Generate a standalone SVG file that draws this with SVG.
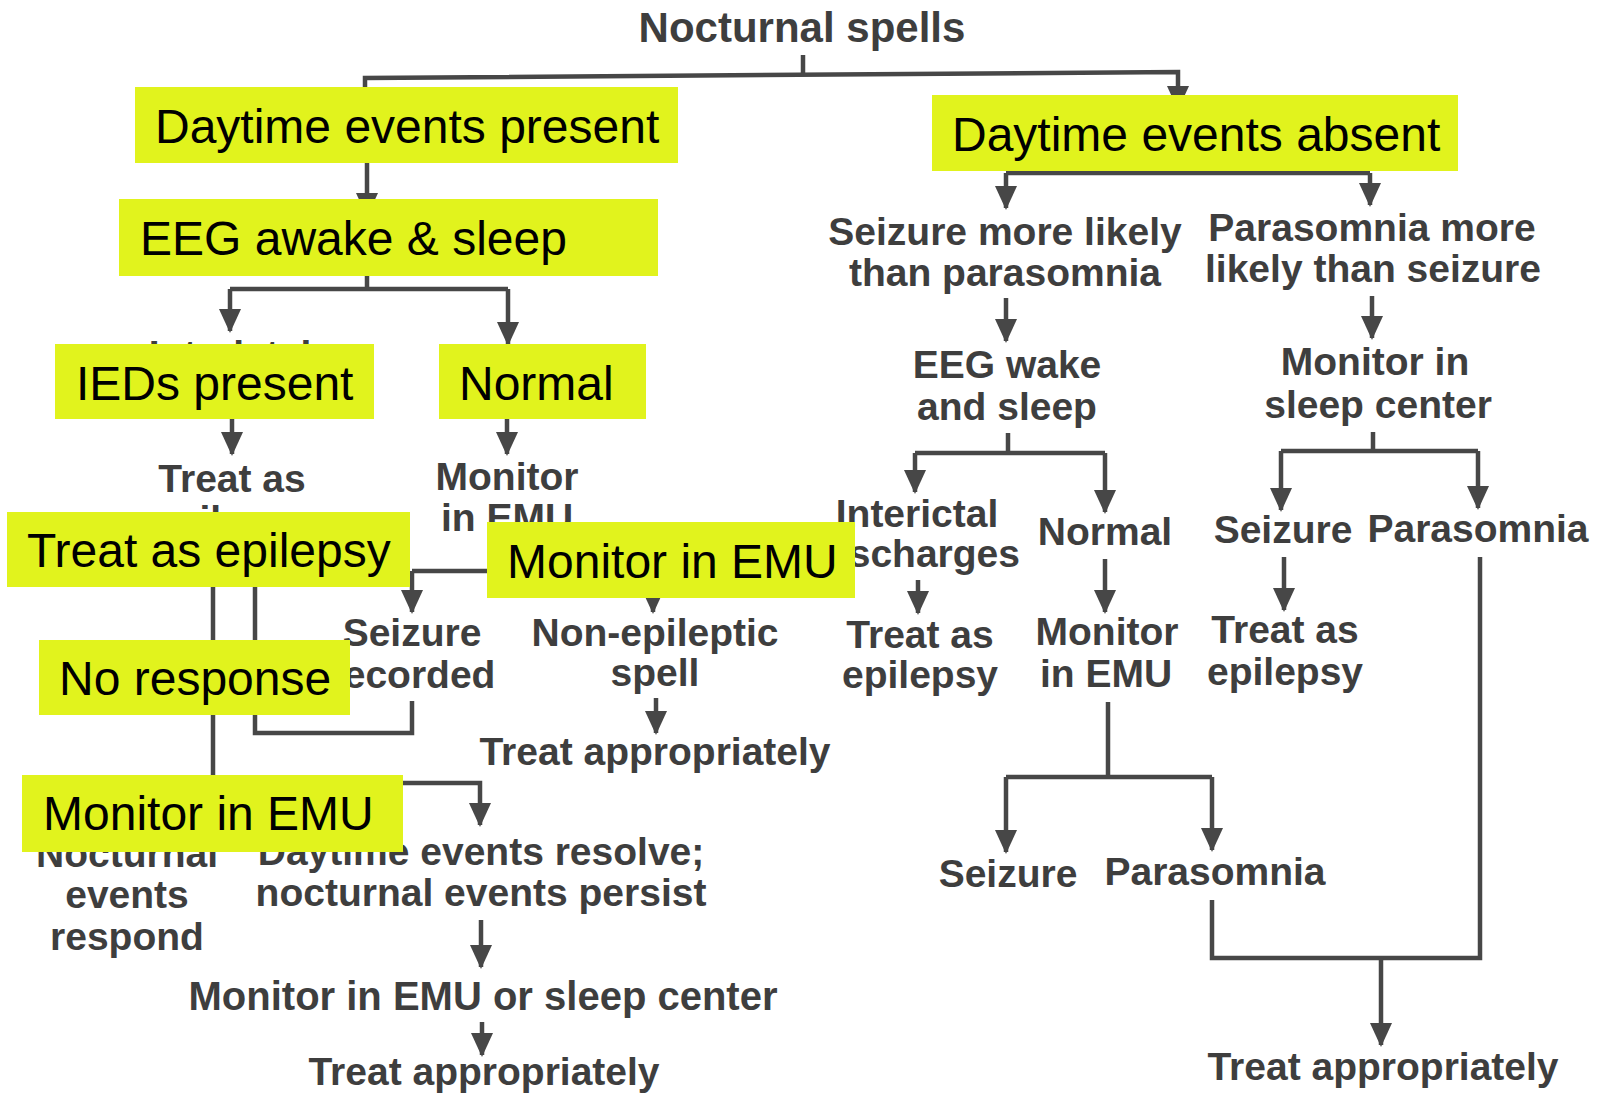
<svg xmlns="http://www.w3.org/2000/svg" width="1600" height="1096" viewBox="0 0 1600 1096">
<style>
.bg{fill:#ffffff}
.ln{fill:none;stroke:#474747;stroke-width:4.5;stroke-linejoin:miter}
.ar{fill:none;stroke:#474747;stroke-width:4.5;marker-end:url(#ah)}
.t{font-family:"Liberation Sans",Arial,sans-serif;font-weight:bold;font-size:39px;fill:#3e3e3e;text-anchor:middle}
.tt{font-size:42px}
.tw{font-size:40px}
.hb{fill:#e1f31d}
.ht{font-family:"Liberation Sans",Arial,sans-serif;font-size:48px;fill:#000000}
</style>
<defs>
<marker id="ah" markerUnits="userSpaceOnUse" markerWidth="24" markerHeight="24" viewBox="0 0 24 24" refX="22" refY="12" orient="auto">
<path d="M0,1 L24,12 L0,23 z" fill="#474747"/>
</marker>
</defs>
<rect class="bg" x="0" y="0" width="1600" height="1096"/>

<g id="connectors">
<path class="ln" d="M803,55 V76"/>
<path class="ar" d="M365,100 V78 L1178,72 V108"/>
<path class="ar" d="M367,163 V215"/>
<path class="ln" d="M367,276 V289 M230,289 H508"/>
<path class="ar" d="M230,289 V331"/>
<path class="ar" d="M508,289 V344"/>
<path class="ar" d="M232,419 V454"/>
<path class="ar" d="M507,419 V454"/>
<path class="ln" d="M507,540 V571 M412,571 H653"/>
<path class="ar" d="M412,571 V612"/>
<path class="ar" d="M653,571 V612"/>
<path class="ar" d="M656,698 V733"/>
<path class="ln" d="M412,701 V733 H255 V587"/>
<path class="ln" d="M213,587 V800"/>
<path class="ar" d="M380,783 H480 V825"/>
<path class="ar" d="M481,920 V967"/>
<path class="ar" d="M482,1022 V1055"/>

<path class="ln" d="M1006,173 H1370"/>
<path class="ar" d="M1006,173 V208"/>
<path class="ar" d="M1370,173 V205"/>
<path class="ar" d="M1006,298 V341"/>
<path class="ar" d="M1372,296 V338"/>
<path class="ln" d="M1008,433 V453 M915,453 H1105"/>
<path class="ar" d="M915,453 V492"/>
<path class="ar" d="M1105,453 V512"/>
<path class="ln" d="M1373,432 V451 M1281,451 H1478"/>
<path class="ar" d="M1281,451 V510"/>
<path class="ar" d="M1478,451 V508"/>
<path class="ar" d="M918,580 V613"/>
<path class="ar" d="M1105,559 V612"/>
<path class="ar" d="M1284,557 V610"/>
<path class="ln" d="M1480,557 V958 H1212 V900"/>
<path class="ln" d="M1108,702 V777 M1006,777 H1212"/>
<path class="ar" d="M1006,777 V852"/>
<path class="ar" d="M1212,777 V850"/>
<path class="ar" d="M1381,958 V1045"/>
</g>

<g id="n-title"><text class="t tt" x="802" y="42">Nocturnal spells</text></g>
<g id="n-interictal-left"><text class="t" x="230" y="368">Interictal</text></g>
<g id="n-treat-left"><text class="t" x="232" y="492">Treat as</text><text class="t" x="232" y="533">epilepsy</text></g>
<g id="n-monitor-left"><text class="t" x="507" y="490">Monitor</text><text class="t" x="507" y="531">in EMU</text></g>
<g id="n-seizure-recorded"><text class="t" x="412" y="646">Seizure</text><text class="t" x="412" y="688">recorded</text></g>
<g id="n-nonepileptic"><text class="t" x="655" y="646">Non-epileptic</text><text class="t" x="655" y="686">spell</text></g>
<g id="n-treat-approp-1"><text class="t" x="655" y="765">Treat appropriately</text></g>
<g id="n-nocturnal-respond"><text class="t" x="127" y="867">Nocturnal</text><text class="t" x="127" y="908">events</text><text class="t" x="127" y="950">respond</text></g>
<g id="n-daytime-resolve"><text class="t" x="481" y="865">Daytime events resolve;</text><text class="t" x="481" y="906">nocturnal events persist</text></g>
<g id="n-monitor-emu-sleep"><text class="t tw" x="483" y="1010">Monitor in EMU or sleep center</text></g>
<g id="n-treat-approp-2"><text class="t" x="484" y="1085">Treat appropriately</text></g>

<g id="n-seizure-likely"><text class="t" x="1005" y="245">Seizure more likely</text><text class="t" x="1005" y="286">than parasomnia</text></g>
<g id="n-parasomnia-likely"><text class="t" x="1372" y="241">Parasomnia more</text><text class="t" x="1373" y="282">likely than seizure</text></g>
<g id="n-eeg-wake"><text class="t" x="1007" y="378">EEG wake</text><text class="t" x="1007" y="420">and sleep</text></g>
<g id="n-monitor-sleep"><text class="t" x="1375" y="375">Monitor in</text><text class="t" x="1378" y="418">sleep center</text></g>
<g id="n-interictal-right"><text class="t" x="917" y="527">Interictal</text><text class="t" x="917" y="567">discharges</text></g>
<g id="n-normal-right"><text class="t" x="1105" y="545">Normal</text></g>
<g id="n-seizure-r1"><text class="t" x="1283" y="543">Seizure</text></g>
<g id="n-parasomnia-r1"><text class="t" x="1478" y="542">Parasomnia</text></g>
<g id="n-treat-r1"><text class="t" x="920" y="648">Treat as</text><text class="t" x="920" y="688">epilepsy</text></g>
<g id="n-monitor-r"><text class="t" x="1107" y="645">Monitor</text><text class="t" x="1106" y="687">in EMU</text></g>
<g id="n-treat-r2"><text class="t" x="1285" y="643">Treat as</text><text class="t" x="1285" y="685">epilepsy</text></g>
<g id="n-seizure-r2"><text class="t" x="1008" y="887">Seizure</text></g>
<g id="n-parasomnia-r2"><text class="t" x="1215" y="885">Parasomnia</text></g>
<g id="n-treat-approp-3"><text class="t" x="1383" y="1080">Treat appropriately</text></g>

<g id="h-daytime-present"><rect class="hb" x="135" y="87" width="543" height="76"/><text class="ht" x="155" y="143">Daytime events present</text></g>
<g id="h-daytime-absent"><rect class="hb" x="932" y="95" width="526" height="76"/><text class="ht" x="952" y="151">Daytime events absent</text></g>
<g id="h-eeg"><rect class="hb" x="119" y="199" width="539" height="77"/><text class="ht" x="140" y="255">EEG awake &amp; sleep</text></g>
<g id="h-ieds"><rect class="hb" x="55" y="344" width="319" height="75"/><text class="ht" x="76" y="400">IEDs present</text></g>
<g id="h-normal"><rect class="hb" x="439" y="344" width="207" height="75"/><text class="ht" x="459" y="400">Normal</text></g>
<g id="h-treat-epilepsy"><rect class="hb" x="7" y="512" width="403" height="75"/><text class="ht" x="27" y="567">Treat as epilepsy</text></g>
<g id="h-monitor-mid"><rect class="hb" x="487" y="522" width="368" height="76"/><text class="ht" x="507" y="578">Monitor in EMU</text></g>
<g id="h-no-response"><rect class="hb" x="39" y="640" width="311" height="75"/><text class="ht" x="59" y="695">No response</text></g>
<g id="h-monitor-bottom"><rect class="hb" x="22" y="775" width="381" height="77"/><text class="ht" x="43" y="830">Monitor in EMU</text></g>
</svg>
